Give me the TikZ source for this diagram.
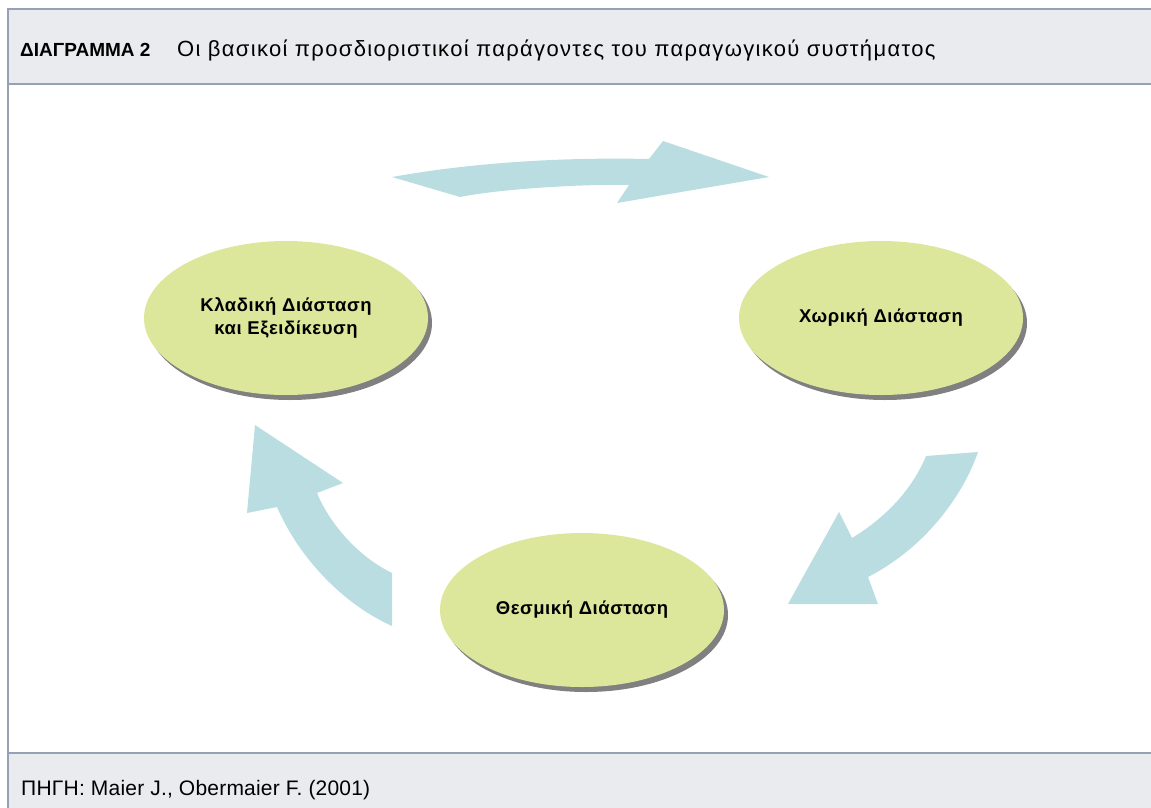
\documentclass[tikz,border=0pt]{standalone}
\usepackage{fontspec}
\setmainfont{Liberation Sans}
\newfontfamily\titlefont[LetterSpace=6]{Liberation Sans}
\newfontfamily\srcfont[LetterSpace=1]{Liberation Sans}
\newfontfamily\boxfont[LetterSpace=3]{Liberation Sans}
\usetikzlibrary{shapes.geometric,shadows}
\definecolor{framegray}{RGB}{149,161,181}
\definecolor{barfill}{RGB}{234,235,239}
\definecolor{arrowblue}{RGB}{185,221,225}
\definecolor{ovalgreen}{RGB}{221,231,155}

\begin{document}
\begin{tikzpicture}[x=1pt,y=-1pt,
  dim/.style={ellipse,fill=ovalgreen,minimum width=284pt,minimum height=154pt,
    inner sep=0pt,align=center,font=\boxfont\bfseries\fontsize{18.5}{23}\selectfont,
    drop shadow={shadow xshift=4pt,shadow yshift=-5pt,fill=black!50,opacity=1}},
  flow/.style={fill=arrowblue}]
  \useasboundingbox (0,0) rectangle (1151,808);
  % header and footer
  \fill[barfill] (8,9) rectangle (1160,84);
  \fill[barfill] (8,753) rectangle (1160,808);
  \draw[framegray,line width=2pt] (8,9) -- (1160,9);
  \draw[framegray,line width=2pt] (8,84) -- (1160,84);
  \draw[framegray,line width=2pt] (8,753) -- (1160,753);
  \draw[framegray,line width=1.5pt] (8,8) -- (8,810);
  \node[anchor=base west,inner sep=0pt] (head) at (20,57)
    {\fontsize{19}{22}\selectfont\bfseries ΔΙΑΓΡΑΜΜΑ 2};
  \node[anchor=base west,inner sep=0pt] (title) at (177,57)
    {\titlefont\fontsize{22}{24}\selectfont Οι βασικοί προσδιοριστικοί παράγοντες του παραγωγικού συστήματος};
  \node[anchor=base west,inner sep=0pt] (src) at (21,795)
    {\srcfont\fontsize{21}{24}\selectfont ΠΗΓΗ: Maier J., Obermaier F. (2001)};
  % the three dimensions
  \node[dim] (klad) at (286,318) {Κλαδική Διάσταση\\και Εξειδίκευση};
  \node[dim] (xor) at (881,318) {Χωρική Διάσταση};
  \node[dim] (thes) at (582,610) {Θεσμική Διάσταση};
  % arrows between them
  \fill[flow] (392,177) .. controls (470,163) and (560,157) .. (649,159)
    -- (663,141) -- (769,177) -- (617,203) -- (629,185)
    .. controls (580,184) and (500,189) .. (460,197) -- cycle;
  \fill[flow] (926,456) -- (978,452) .. controls (965,490) and (930,545) .. (868,577)
    -- (878,604) -- (788,604) -- (839,512) -- (852,538)
    .. controls (885,518) and (912,490) .. (926,456) -- cycle;
  \fill[flow] (255,425) -- (343,483) -- (317,493)
    .. controls (328,520) and (355,555) .. (392,573) -- (392,626)
    .. controls (345,605) and (300,560) .. (277,507) -- (247,513) -- cycle;
\end{tikzpicture}
\end{document}
